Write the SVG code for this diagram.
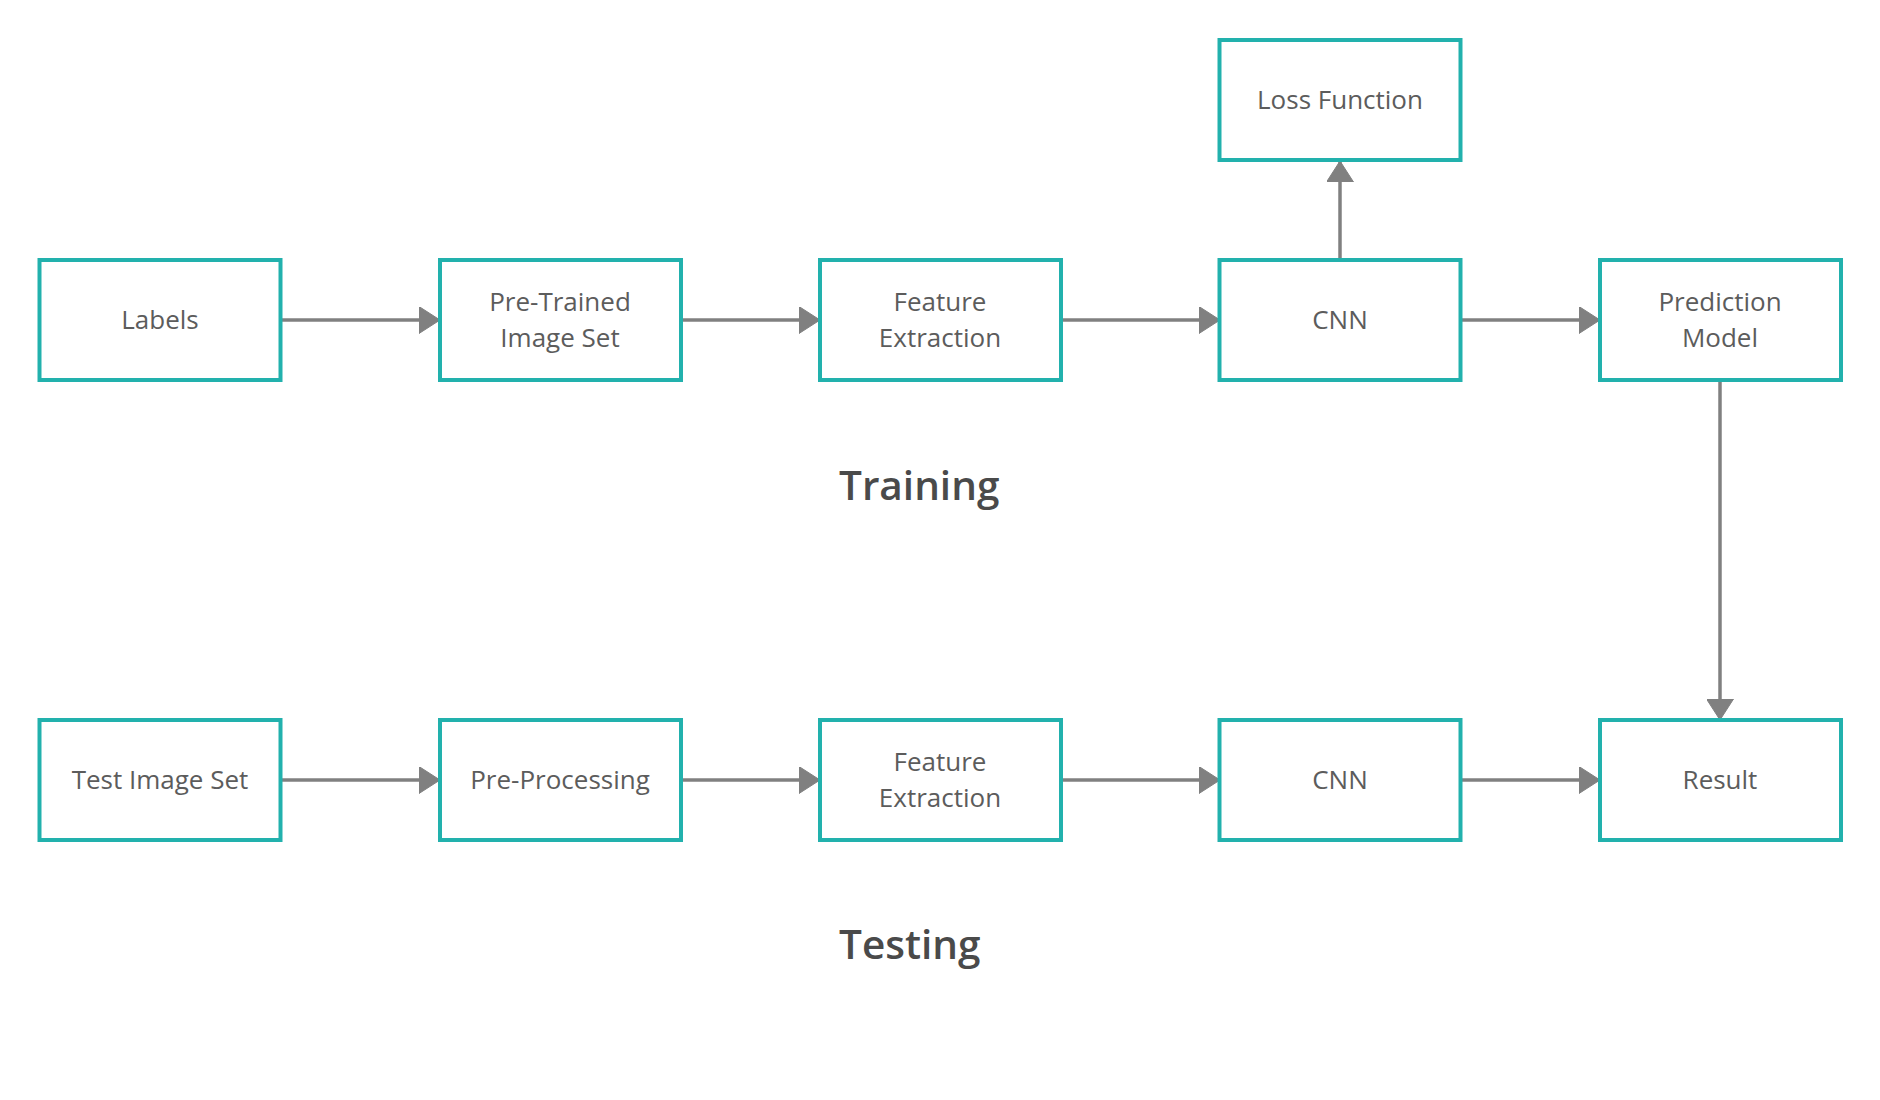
<svg xmlns="http://www.w3.org/2000/svg" width="1880" height="1100" viewBox="0 0 1880 1100">
<defs>
<style>
.box{fill:#ffffff;stroke:#22b1ad;stroke-width:4}
.lbl{font-family:"Open Sans","Noto Sans",sans-serif;font-size:26px;fill:#5c5c5c;text-anchor:middle}
.title{font-family:"Open Sans","Noto Sans",sans-serif;font-size:40.5px;font-weight:600;fill:#4a4a4a}
.edge{stroke:#808080;stroke-width:3.5;fill:none;marker-end:url(#ah)}
</style>
<marker id="ah" viewBox="0 0 21 27" refX="21" refY="13.5" markerWidth="21" markerHeight="27" markerUnits="userSpaceOnUse" orient="auto">
<path d="M0,0 L21,13.5 L0,27 Z" fill="#808080" stroke="#808080" stroke-width="1" stroke-linejoin="round"/>
</marker>
</defs>
<rect width="1880" height="1100" fill="#ffffff"/>
<g id="edges">
<path class="edge" d="M280,320 L440,320"/>
<path class="edge" d="M681,320 L820,320"/>
<path class="edge" d="M1061,320 L1220,320"/>
<path class="edge" d="M1460,320 L1600,320"/>
<path class="edge" d="M1340,260 L1340,161"/>
<path class="edge" d="M1720,380 L1720,720"/>
<path class="edge" d="M280,780 L440,780"/>
<path class="edge" d="M681,780 L820,780"/>
<path class="edge" d="M1061,780 L1220,780"/>
<path class="edge" d="M1460,780 L1600,780"/>
</g>
<g id="n-loss"><rect class="box" x="1219.5" y="40" width="241" height="120"/><text class="lbl" x="1340" y="109">Loss Function</text></g>
<g id="n-labels"><rect class="box" x="39.5" y="260" width="241" height="120"/><text class="lbl" x="160" y="329">Labels</text></g>
<g id="n-pretrained"><rect class="box" x="440" y="260" width="241" height="120"/><text class="lbl" x="560" y="311">Pre-Trained</text><text class="lbl" x="560" y="347">Image Set</text></g>
<g id="n-feat1"><rect class="box" x="820" y="260" width="241" height="120"/><text class="lbl" x="940" y="311">Feature</text><text class="lbl" x="940" y="347">Extraction</text></g>
<g id="n-cnn1"><rect class="box" x="1219.5" y="260" width="241" height="120"/><text class="lbl" x="1340" y="329">CNN</text></g>
<g id="n-pred"><rect class="box" x="1600" y="260" width="241" height="120"/><text class="lbl" x="1720" y="311">Prediction</text><text class="lbl" x="1720" y="347">Model</text></g>
<g id="n-test"><rect class="box" x="39.5" y="720" width="241" height="120"/><text class="lbl" x="160" y="789">Test Image Set</text></g>
<g id="n-pre"><rect class="box" x="440" y="720" width="241" height="120"/><text class="lbl" x="560" y="789">Pre-Processing</text></g>
<g id="n-feat2"><rect class="box" x="820" y="720" width="241" height="120"/><text class="lbl" x="940" y="771">Feature</text><text class="lbl" x="940" y="807">Extraction</text></g>
<g id="n-cnn2"><rect class="box" x="1219.5" y="720" width="241" height="120"/><text class="lbl" x="1340" y="789">CNN</text></g>
<g id="n-result"><rect class="box" x="1600" y="720" width="241" height="120"/><text class="lbl" x="1720" y="789">Result</text></g>
<text class="title" x="839" y="500">Training</text>
<text class="title" x="839" y="959">Testing</text>
</svg>
